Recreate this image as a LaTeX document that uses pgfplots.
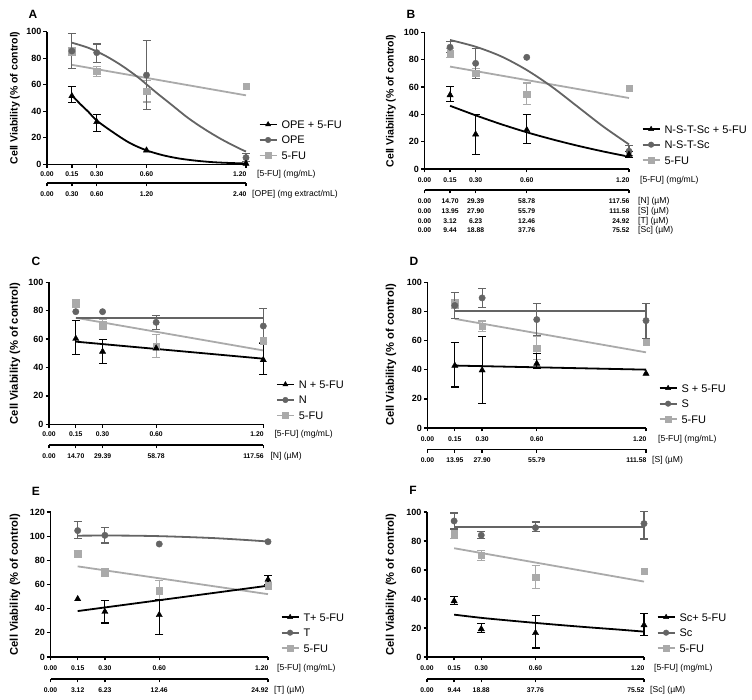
\documentclass[border=0pt]{standalone}
\usepackage{pgfplots}
\pgfplotsset{compat=1.18}
\usepackage{fontspec}
\setmainfont{Liberation Sans}
\definecolor{dgray}{RGB}{100,100,100}
\definecolor{lgray}{RGB}{170,170,170}
\newcommand{\tfont}{\bfseries\fontsize{6.8}{10}\selectfont}
\newcommand{\ufont}{\mdseries\fontsize{8.6}{10}\selectfont}
% one row of x tick labels: #1 baseline shift, #2-#6 labels, #7 unit text, #8 unit x-shift
\newcommand{\xrow}[8]{%
 \node[anchor=base, font=\tfont, inner sep=0pt] at ([yshift=#1]axis cs:0,0) {#2};
 \node[anchor=base, font=\tfont, inner sep=0pt] at ([yshift=#1]axis cs:0.15,0) {#3};
 \node[anchor=base, font=\tfont, inner sep=0pt] at ([yshift=#1]axis cs:0.3,0) {#4};
 \node[anchor=base, font=\tfont, inner sep=0pt] at ([yshift=#1]axis cs:0.6,0) {#5};
 \node[anchor=base east, font=\tfont, inner sep=0pt] at ([xshift=0.6pt,yshift=#1]axis cs:1.2,0) {#6};
 \node[anchor=base west, font=\ufont, inner sep=0pt] at ([xshift=#8,yshift=#1]axis cs:1.2,0) {#7};
}
\pgfplotsset{
 panel/.style={
  scale only axis, clip=false, anchor=south west,
  xmin=0, xmax=1.2, ymin=0,
  axis x line*=bottom, axis y line*=left,
  axis line style={-, line width=1.5pt, black},
  tick style={black, line width=1.3pt},
  tick align=outside, major tick length=3.5pt,
  xtick={0,0.15,0.3,0.6,1.2}, xticklabels={,,,,},
  yticklabel style={font=\bfseries\fontsize{9}{10}\selectfont, inner sep=2pt},
  /pgf/number format/assume math mode=true,
  legend image code/.code={\draw[##1, mark repeat=2, mark phase=2] plot coordinates {(0pt,0pt) (8.5pt,0pt) (17pt,0pt)};},
  legend style={draw=none, fill=none, at={(1,0)}, anchor=north west, xshift=12.5pt, yshift=44pt, inner sep=0pt,
    font=\fontsize{11}{12}\selectfont, row sep=7.5pt, column sep=4pt,
    nodes={inner sep=0pt, text height=8pt, text depth=0pt}},
  legend cell align=left,
 },
 sec/.style={scale only axis, anchor=south west, xmin=0, xmax=1.2, ymin=0, ymax=1, height=1pt,
  hide y axis, axis x line*=bottom, axis line style={-, line width=1.5pt, black},
  tick style={black, line width=1.3pt}, tick align=outside, major tick length=3.5pt,
  xtick={0,0.15,0.3,0.6,1.2}, xticklabels={,,,,}, clip=false},
 blk/.style={black, only marks, mark=triangle*, mark size=3.6pt, forget plot,
  error bars/y dir=both, error bars/y explicit,
  error bars/error bar style={line width=1.1pt, black},
  error bars/error mark options={rotate=90, mark size=4pt, line width=1.1pt, black}},
 drk/.style={dgray, only marks, mark=*, mark size=3.2pt, forget plot,
  error bars/y dir=both, error bars/y explicit,
  error bars/error bar style={line width=1.1pt, dgray},
  error bars/error mark options={rotate=90, mark size=4pt, line width=1.1pt, dgray}},
 lgt/.style={lgray, only marks, mark=square*, mark size=3.2pt, forget plot,
  error bars/y dir=both, error bars/y explicit,
  error bars/error bar style={line width=1.1pt, lgray},
  error bars/error mark options={rotate=90, mark size=4pt, line width=1.1pt, lgray}},
 fitb/.style={black, line width=1.8pt, no markers, smooth, forget plot},
 fitd/.style={dgray, line width=1.8pt, no markers, smooth, forget plot},
 fitl/.style={lgray, line width=1.8pt, no markers, forget plot},
 legb/.style={black, line width=1.8pt, mark=triangle*, mark size=3pt, mark options={line width=0.4pt}},
 legd/.style={dgray, line width=1.8pt, mark=*, mark size=2.8pt, mark options={line width=0.4pt}},
 legl/.style={lgray, line width=1.8pt, mark=square*, mark size=2.8pt, mark options={line width=0.4pt}},
}
\newcommand{\fudata}{%
 \addplot[fitl] coordinates {(0.15,75) (1.2,52)};
 \addplot[lgt] coordinates {(0.15,85) += (0,3) -= (0,3) (0.3,70) += (0,3.5) -= (0,3.5) (0.6,55) += (0,8) -= (0,8)};
 \addplot[lgt, error bars/y dir=none] coordinates {(1.2,59)};
}
\newcommand{\legs}[2]{%
 \addlegendimage{legb}\addlegendentry{#1}
 \addlegendimage{legd}\addlegendentry{#2}
 \addlegendimage{legl}\addlegendentry{5-FU}
}
\newcommand{\ylab}[3]{\node[rotate=90, font=\bfseries\fontsize{#3}{12}\selectfont] at (#1pt,#2pt) {Cell Viability (\% of control)};}
\begin{document}
\begin{tikzpicture}
\useasboundingbox (0pt,0pt) rectangle (752pt,700pt);
\tikzset{pl/.style={font=\bfseries\fontsize{12}{14}\selectfont}}
% ================= A =================
\begin{axis}[panel, at={(47pt,535.7pt)}, width=199pt, height=132.6pt, ymax=100, ytick={0,20,...,100}]
\legs{OPE + 5-FU}{OPE}
\fudata
\addplot[fitd] coordinates {(0.15,91.7) (0.25,87.8) (0.35,82) (0.45,74.5) (0.55,65.5) (0.65,55) (0.75,45) (0.85,35) (0.95,26.5) (1.05,19) (1.15,12.5) (1.2,9.6)};
\addplot[fitb] coordinates {(0.15,52) (0.2,45.5) (0.25,39.5) (0.3,33) (0.4,24) (0.5,16) (0.6,10.5) (0.7,6.8) (0.8,4.3) (0.9,2.7) (1.0,1.6) (1.1,1.0) (1.2,0.6)};
\addplot[drk] coordinates {(0.15,85.4) += (0,13.4) -= (0,13.5) (0.3,84.2) += (0,6.5) -= (0,7.6) (0.6,67.3) += (0,26) -= (0,26) (1.2,5) += (0,3) -= (0,3)};
\addplot[blk] coordinates {(0.15,51.5) += (0,7) -= (0,5) (0.3,32) += (0,5.7) -= (0,7)};
\addplot[blk, error bars/y dir=none] coordinates {(0.6,10.5) (1.2,0.5)};
\xrow{-12.3pt}{0.00}{0.15}{0.30}{0.60}{1.20}{[5-FU] (mg/mL)}{11pt}
\end{axis}
\begin{axis}[sec, at={(47pt,517pt)}, width=199pt]
\addplot[draw=none] coordinates {(0,0)};
\xrow{-13.4pt}{0.00}{0.30}{0.60}{1.20}{2.40}{[OPE] (mg extract/mL)}{6pt}
\end{axis}
\node[pl] at (33pt,686pt) {A};
\ylab{15}{602}{10.5}
% ================= B =================
\begin{axis}[panel, at={(424.5pt,531pt)}, width=204.5pt, height=136.5pt, ymax=100, ytick={0,20,...,100}]
\legs{N-S-T-Sc + 5-FU}{N-S-T-Sc}
\fudata
\addplot[fitd] coordinates {(0.15,94.5) (0.3,89.6) (0.45,82.5) (0.6,72.5) (0.75,60) (0.9,45.5) (1.05,31) (1.2,18)};
\addplot[fitb] coordinates {(0.15,46.3) (0.3,39.3) (0.45,32.8) (0.6,26.9) (0.75,21.7) (0.9,17) (1.05,12.8) (1.2,9)};
\addplot[drk] coordinates {(0.15,89.2) += (0,4) -= (0,4) (0.3,77.4) += (0,11) -= (0,11) (1.2,13) += (0,4) -= (0,3)};
\addplot[drk, error bars/y dir=none] coordinates {(0.6,81.8)};
\addplot[blk] coordinates {(0.15,54.2) += (0,6) -= (0,5) (0.3,25.4) += (0,14.6) -= (0,14.6) (0.6,28.6) += (0,11.4) -= (0,9.8) (1.2,10.6) += (0,2.5) -= (0,2.5)};
\xrow{-13.4pt}{0.00}{0.15}{0.30}{0.60}{1.20}{[5-FU] (mg/mL)}{11pt}
\end{axis}
\begin{axis}[sec, at={(424.5pt,510pt)}, width=204.5pt]
\addplot[draw=none] coordinates {(0,0)};
\xrow{-13.4pt}{0.00}{14.70}{29.39}{58.78}{117.56}{[N] (µM)}{9pt}
\xrow{-23.4pt}{0.00}{13.95}{27.90}{55.79}{111.58}{[S] (µM)}{9pt}
\xrow{-33.2pt}{0.00}{3.12}{6.23}{12.46}{24.92}{[T] (µM)}{9pt}
\xrow{-42.8pt}{0.00}{9.44}{18.88}{37.76}{75.52}{[Sc] (µM)}{9pt}
\end{axis}
\node[pl] at (411pt,686pt) {B};
\ylab{391}{599}{10.5}
% ================= C =================
\begin{axis}[panel, at={(49pt,275.7pt)}, width=214.3pt, height=142pt, ymax=100, ytick={0,20,...,100}]
\legs{N + 5-FU}{N}
\fudata
\addplot[fitd] coordinates {(0.15,75.1) (1.2,75.1)};
\addplot[fitb] coordinates {(0.15,58.2) (1.2,46.2)};
\addplot[drk] coordinates {(0.6,71.8) += (0,5) -= (0,4.9) (1.2,69.2) += (0,12.5) -= (0,11.7)};
\addplot[drk, error bars/y dir=none] coordinates {(0.15,79.3) (0.3,79.3)};
\addplot[blk] coordinates {(0.15,60.3) += (0,12.7) -= (0,11.3) (0.3,51.2) += (0,8.8) -= (0,8.2) (1.2,45.3) += (0,11.7) -= (0,10.3)};
\addplot[blk, error bars/y dir=none] coordinates {(0.6,53.5)};
\xrow{-12pt}{0.00}{0.15}{0.30}{0.60}{1.20}{[5-FU] (mg/mL)}{11pt}
\end{axis}
\begin{axis}[sec, at={(49pt,255pt)}, width=214.3pt]
\addplot[draw=none] coordinates {(0,0)};
\xrow{-14pt}{0.00}{14.70}{29.39}{58.78}{117.56}{[N] (µM)}{7pt}
\end{axis}
\node[pl] at (36pt,439pt) {C};
\ylab{15}{346.7}{11.2}
% ================= D =================
\begin{axis}[panel, at={(427.5pt,272pt)}, width=218.5pt, height=145.5pt, ymax=100, ytick={0,20,...,100}]
\legs{S + 5-FU}{S}
\fudata
\addplot[fitd] coordinates {(0.15,80.5) (1.2,80.5)};
\addplot[fitb] coordinates {(0.15,42.9) (1.2,40.1)};
\addplot[drk] coordinates {(0.15,84.2) += (0,8.7) -= (0,9) (0.3,89.4) += (0,6.7) -= (0,6.8) (0.6,74.5) += (0,11.1) -= (0,10.7) (1.2,73.8) += (0,12) -= (0,12.3)};
\addplot[blk] coordinates {(0.15,42.9) += (0,15.8) -= (0,14.7) (0.3,39.7) += (0,23.4) -= (0,23) (0.6,44.3) += (0,6.8) -= (0,3.5)};
\addplot[blk, error bars/y dir=none] coordinates {(1.2,37.4)};
\xrow{-13.5pt}{0.00}{0.15}{0.30}{0.60}{1.20}{[5-FU] (mg/mL)}{12pt}
\end{axis}
\begin{axis}[sec, at={(427.5pt,250.7pt)}, width=218.5pt]
\addplot[draw=none] coordinates {(0,0)};
\xrow{-13.4pt}{0.00}{13.95}{27.90}{55.79}{111.58}{[S] (µM)}{6pt}
\end{axis}
\node[pl] at (414pt,439pt) {D};
\ylab{391}{345}{11.2}
% ================= E =================
\begin{axis}[panel, at={(50.5pt,43pt)}, width=217.5pt, height=145pt, ymax=120, ytick={0,20,...,120}]
\legs{T+ 5-FU}{T}
\fudata
\addplot[fitd] coordinates {(0.15,100.4) (0.3,100.5) (0.45,100.4) (0.6,100) (0.75,99.3) (0.9,98.4) (1.05,97.1) (1.2,95.6)};
\addplot[fitb] coordinates {(0.15,38) (1.2,59)};
\addplot[drk] coordinates {(0.15,104.6) += (0,7.7) -= (0,6.9) (0.3,100.7) += (0,6.1) -= (0,6.4)};
\addplot[drk, error bars/y dir=none] coordinates {(0.6,93.5) (1.2,95.4)};
\addplot[blk] coordinates {(0.3,37.5) += (0,9.4) -= (0,9.4) (0.6,34.8) += (0,12.4) -= (0,16) (1.2,64) += (0,3.3) -= (0,4.1)};
\addplot[blk, error bars/y dir=none] coordinates {(0.15,48)};
\xrow{-14pt}{0.00}{0.15}{0.30}{0.60}{1.20}{[5-FU] (mg/mL)}{9pt}
\end{axis}
\begin{axis}[sec, at={(50.5pt,21pt)}, width=217.5pt]
\addplot[draw=none] coordinates {(0,0)};
\xrow{-13.4pt}{0.00}{3.12}{6.23}{12.46}{24.92}{[T] (µM)}{6pt}
\end{axis}
\node[pl] at (36pt,209pt) {E};
\ylab{15}{115.5}{11.2}
% ================= F =================
\begin{axis}[panel, at={(427pt,43pt)}, width=217pt, height=145pt, ymax=100, ytick={0,20,...,100}]
\legs{Sc+ 5-FU}{Sc}
\fudata
\addplot[fitd] coordinates {(0.15,89.7) (1.2,89.7)};
\addplot[fitb] coordinates {(0.15,29.2) (0.3,27) (0.45,25.2) (0.6,23.5) (0.75,21.9) (0.9,20.4) (1.05,19) (1.2,17.5)};
\addplot[drk] coordinates {(0.15,93.8) += (0,5.5) -= (0,5.5) (0.3,84) += (0,2.4) -= (0,2.2) (0.6,89.2) += (0,3.9) -= (0,2.8) (1.2,92) += (0,8.5) -= (0,10.6)};
\addplot[blk] coordinates {(0.15,38.6) += (0,3.2) -= (0,2.5) (0.3,19.3) += (0,3.5) -= (0,2.7) (0.6,16.6) += (0,11.9) -= (0,10.4) (1.2,22) += (0,8.3) -= (0,7.1)};
\xrow{-14pt}{0.00}{0.15}{0.30}{0.60}{1.20}{[5-FU] (mg/mL)}{10pt}
\end{axis}
\begin{axis}[sec, at={(427pt,21pt)}, width=217pt]
\addplot[draw=none] coordinates {(0,0)};
\xrow{-13.4pt}{0.00}{9.44}{18.88}{37.76}{75.52}{[Sc] (µM)}{6pt}
\end{axis}
\node[pl] at (413pt,210pt) {F};
\ylab{391}{115.5}{11.2}
\end{tikzpicture}
\end{document}
